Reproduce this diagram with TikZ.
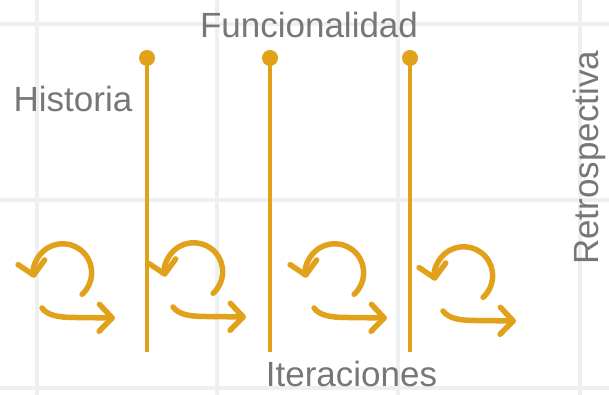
\documentclass[tikz,border=0pt]{standalone}
\usepackage{fontspec}
\setmainfont{Liberation Sans}
\usetikzlibrary{arrows.meta}
\definecolor{gold}{HTML}{E2A11B}
\definecolor{labelgray}{HTML}{777777}
\definecolor{gridline}{HTML}{ECF0F3}
\tikzset{
  gridstroke/.style={draw=gridline, line width=4pt},
  stem/.style={draw=gold, line width=3.5pt},
  stemdot/.style={fill=gold},
  cyclearrow/.style={draw=gold, line width=5.5pt, line cap=round,
    -{Straight Barb[length=13pt,width=27pt,round]}},
  label/.style={text=labelgray, font=\fontsize{35}{40}\selectfont, inner sep=0pt, anchor=base},
  cycleicon/.pic={
    \draw[cyclearrow] (82.1,100.7) arc[start angle=-48, end angle=190, radius=29];
    \draw[cyclearrow] (42,87) .. controls (48,79) and (60,77.5) .. (75,77.5) -- (115,77);
  }
}
\begin{document}
\begin{tikzpicture}[x=1pt,y=1pt]
\useasboundingbox (0,0) rectangle (609,395);
% background grid
\foreach \gx in {37,217,398,580} \draw[gridstroke] (\gx,0) -- (\gx,395);
\foreach \gy in {371,195,7} \draw[gridstroke] (0,\gy) -- (609,\gy);
% stems
\foreach \sx/\nm in {147/a,270/b,410/c} {
  \coordinate (top\nm) at (\sx,337);
  \coordinate (bot\nm) at (\sx,43);
  \draw[stem] (top\nm) -- (bot\nm);
  \fill[stemdot] (top\nm) circle[radius=8];
}
% cycle icons
\pic at (0,0) {cycleicon};
\pic at (131,1) {cycleicon};
\pic at (272,0) {cycleicon};
\pic at (401,-3) {cycleicon};
% labels
\node[label] (funcionalidad) at (309,357) {Funcionalidad};
\node[label] (historia) at (73,283) {Historia};
\node[label] (iteraciones) at (351.5,8) {Iteraciones};
\node[label, rotate=90] (retro) at (598,237) {Retrospectiva};
\end{tikzpicture}
\end{document}
